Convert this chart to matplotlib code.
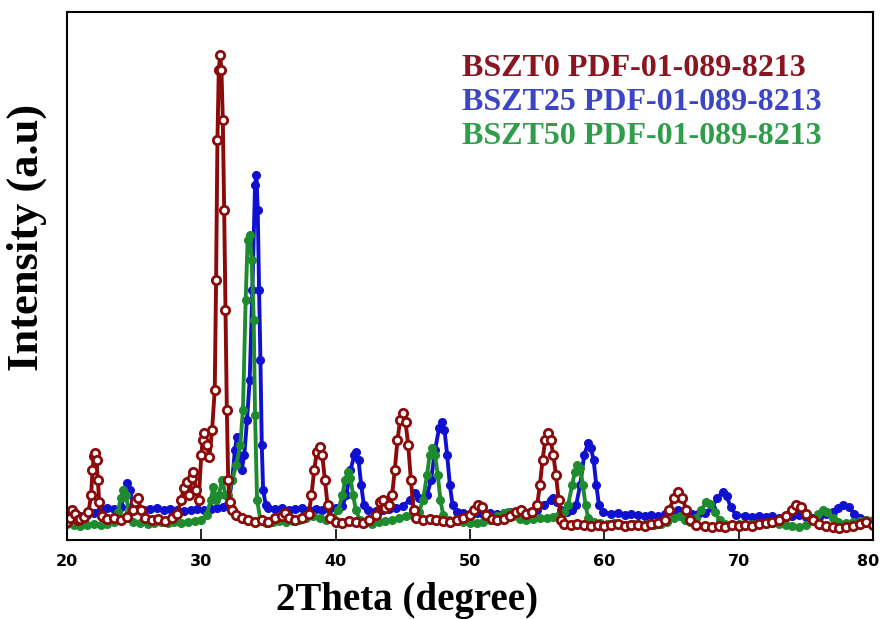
import matplotlib.pyplot as plt
from matplotlib.transforms import ScaledTranslation

# BSZT0 (arbitrary intensity units)
x_bszt0 = [20.0, 20.2, 20.4, 20.6, 20.8, 21.0, 21.3, 21.6, 21.8, 21.9, 22.0, 22.1, 22.2, 22.3, 22.4, 22.6,
           23.0, 23.5, 24.0, 24.5, 24.9, 25.1, 25.3, 25.5, 25.8, 26.3, 26.8, 27.3, 27.8, 28.2, 28.5, 28.7,
           28.9, 29.1, 29.3, 29.4, 29.6, 29.8, 30.0, 30.1, 30.2, 30.4, 30.6, 30.8, 31.0, 31.1, 31.2, 31.3,
           31.4, 31.5, 31.6, 31.7, 31.8, 31.9, 32.0, 32.1, 32.3, 32.6, 33.0, 33.5, 34.0, 34.5, 35.0, 35.5,
           36.0, 36.2, 36.5, 37.0, 37.5, 38.0, 38.2, 38.4, 38.6, 38.8, 39.0, 39.2, 39.4, 39.6, 40.0, 40.5,
           41.0, 41.5, 42.0, 42.5, 43.0, 43.3, 43.5, 43.7, 44.0, 44.2, 44.4, 44.6, 44.8, 45.0, 45.2, 45.4,
           45.6, 45.8, 46.0, 46.5, 47.0, 47.5, 48.0, 48.5, 49.0, 49.5, 50.0, 50.3, 50.6, 50.9, 51.2, 51.6,
           52.0, 52.5, 53.0, 53.4, 53.8, 54.2, 54.6, 55.0, 55.2, 55.4, 55.6, 55.8, 56.0, 56.2, 56.4, 56.6,
           56.8, 57.0, 57.5, 58.0, 58.5, 59.0, 59.5, 60.0, 60.5, 61.0, 61.5, 62.0, 62.5, 63.0, 63.5, 64.0,
           64.5, 64.8, 65.2, 65.5, 65.8, 66.1, 66.4, 66.8, 67.5, 68.0, 68.5, 69.0, 69.5, 70.0, 70.5, 71.0,
           71.5, 72.0, 72.5, 73.0, 73.5, 74.0, 74.3, 74.6, 75.0, 75.5, 76.0, 76.5, 77.0, 77.5, 78.0, 78.5,
           79.0, 79.5, 80.0]
y_bszt0 = [18, 22, 30, 26, 20, 21, 23, 28, 45, 70, 84, 87, 80, 60, 38, 24,
           21, 22, 20, 23, 30, 38, 42, 30, 22, 20, 21, 19, 22, 26, 40, 52,
           58, 45, 62, 68, 50, 40, 85, 100, 107, 95, 83, 110, 150, 260, 400, 470,
           485, 470, 420, 330, 230, 130, 60, 38, 30, 25, 22, 20, 18, 20, 18, 22,
           24, 27, 22, 20, 22, 26, 45, 70, 88, 93, 85, 60, 35, 22, 18, 17,
           19, 18, 17, 20, 25, 38, 40, 32, 35, 45, 70, 100, 120, 127, 118, 95,
           60, 30, 22, 20, 21, 20, 19, 18, 20, 22, 25, 30, 35, 33, 25, 21,
           20, 21, 24, 28, 30, 26, 28, 35, 55, 80, 100, 107, 100, 85, 65, 40,
           20, 16, 15, 16, 15, 14, 15, 14, 15, 16, 14, 15, 15, 14, 16, 17,
           20, 30, 42, 48, 42, 30, 20, 15, 14, 13, 14, 13, 15, 14, 15, 14,
           16, 17, 18, 20, 24, 30, 35, 33, 26, 20, 16, 14, 13, 12, 13, 14,
           16, 18, 15]

# BSZT25
x_bszt25 = [20.0, 20.5, 21.0, 21.5, 22.0, 22.5, 23.0, 23.5, 24.0, 24.3, 24.5, 24.7, 24.9, 25.2, 25.7, 26.2,
            26.7, 27.2, 27.7, 28.2, 28.7, 29.2, 29.7, 30.2, 30.7, 31.2, 31.6, 32.0, 32.3, 32.5, 32.65, 32.8,
            33.0, 33.2, 33.4, 33.6, 33.8, 34.0, 34.1, 34.2, 34.3, 34.4, 34.5, 34.6, 34.8, 35.0, 35.5, 36.0,
            36.5, 37.0, 37.5, 38.0, 38.5, 39.0, 39.5, 40.0, 40.5, 40.8, 41.1, 41.4, 41.5, 41.7, 41.9, 42.1,
            42.4, 43.0, 43.5, 44.0, 44.5, 45.0, 45.5, 45.9, 46.2, 46.5, 46.8, 47.1, 47.4, 47.7, 47.9, 48.1,
            48.3, 48.5, 48.7, 49.0, 49.5, 50.0, 50.5, 51.0, 51.5, 52.0, 52.5, 53.0, 53.5, 54.0, 54.5, 55.0,
            55.5, 56.0, 56.2, 56.5, 56.8, 57.2, 57.6, 57.9, 58.2, 58.5, 58.8, 59.0, 59.2, 59.4, 59.6, 59.9,
            60.5, 61.0, 61.5, 62.0, 62.5, 63.0, 63.5, 64.0, 64.5, 65.0, 65.5, 66.0, 66.5, 67.0, 67.5, 68.0,
            68.4, 68.8, 69.1, 69.4, 69.8, 70.5, 71.0, 71.5, 72.0, 72.5, 73.0, 73.5, 74.0, 74.5, 75.0, 75.5,
            76.0, 76.5, 77.0, 77.4, 77.8, 78.2, 78.6, 79.0, 79.5, 80.0]
y_bszt25 = [22, 24, 24, 25, 27, 31, 32, 31, 33, 45, 57, 50, 35, 31, 30, 31,
            32, 30, 31, 30, 29, 30, 31, 30, 31, 32, 33, 36, 60, 90, 103, 85,
            70, 85, 120, 160, 250, 355, 365, 330, 250, 180, 95, 50, 35, 32, 31, 32,
            30, 31, 32, 30, 31, 30, 31, 32, 34, 45, 70, 85, 88, 80, 55, 35,
            30, 29, 30, 31, 32, 34, 40, 47, 42, 40, 45, 60, 90, 112, 118, 110,
            85, 55, 35, 28, 27, 26, 27, 26, 27, 26, 27, 28, 27, 28, 28, 30,
            35, 40, 42, 38, 30, 28, 30, 35, 55, 85, 97, 92, 80, 55, 35, 28,
            26, 27, 25, 26, 25, 24, 25, 24, 26, 28, 30, 27, 26, 26, 27, 32,
            42, 48, 44, 33, 25, 24, 23, 24, 23, 24, 22, 23, 24, 25, 23, 22,
            23, 26, 28, 32, 35, 33, 26, 22, 20, 18]

# BSZT50
x_bszt50 = [20.0, 20.5, 21.0, 21.5, 22.0, 22.5, 23.0, 23.5, 23.8, 24.0, 24.2, 24.4, 24.6, 24.9, 25.4, 26.0,
            26.5, 27.0, 27.5, 28.0, 28.5, 29.0, 29.5, 30.0, 30.4, 30.7, 30.9, 31.1, 31.3, 31.55, 31.8, 32.0,
            32.3, 32.6, 32.9, 33.1, 33.3, 33.45, 33.6, 33.75, 33.9, 34.0, 34.15, 34.4, 34.8, 35.3, 35.8, 36.3,
            36.8, 37.3, 37.8, 38.3, 38.8, 39.3, 39.8, 40.2, 40.5, 40.7, 40.9, 41.1, 41.3, 41.5, 41.8, 42.2,
            42.7, 43.2, 43.7, 44.2, 44.7, 45.2, 45.7, 46.2, 46.5, 46.8, 47.0, 47.2, 47.4, 47.6, 47.8, 48.0,
            48.4, 49.0, 49.5, 50.0, 50.5, 51.0, 51.5, 52.0, 52.5, 52.8, 53.2, 53.7, 54.2, 54.7, 55.2, 55.7,
            56.2, 56.6, 57.0, 57.3, 57.6, 57.8, 58.0, 58.2, 58.4, 58.6, 58.8, 59.2, 59.7, 60.2, 60.7, 61.2,
            61.7, 62.2, 62.7, 63.2, 63.7, 64.2, 64.7, 65.2, 65.6, 66.0, 66.4, 66.8, 67.2, 67.6, 67.9, 68.2,
            68.6, 69.0, 69.5, 70.0, 70.5, 71.0, 71.5, 72.0, 72.5, 73.0, 73.5, 74.0, 74.5, 75.0, 75.5, 75.9,
            76.3, 76.6, 77.0, 77.4, 78.0, 78.5, 79.0, 79.5, 80.0]
y_bszt50 = [16, 15, 14, 15, 16, 15, 16, 18, 28, 42, 50, 45, 28, 18, 17, 16,
            17, 18, 17, 18, 17, 18, 19, 20, 25, 40, 53, 40, 45, 60, 45, 45,
            60, 75, 95, 130, 240, 300, 305, 280, 220, 125, 40, 20, 17, 18, 19, 18,
            19, 20, 22, 24, 22, 20, 22, 30, 45, 60, 68, 62, 45, 30, 20, 17,
            16, 18, 19, 20, 22, 24, 25, 28, 40, 65, 85, 92, 85, 65, 40, 25,
            20, 19, 18, 17, 17, 18, 20, 24, 27, 28, 24, 21, 20, 21, 22, 22,
            23, 25, 28, 35, 55, 68, 75, 72, 55, 35, 22, 18, 17, 16, 17, 16,
            15, 16, 15, 16, 15, 16, 18, 22, 24, 20, 18, 22, 30, 38, 36, 28,
            20, 16, 15, 16, 15, 16, 17, 16, 17, 16, 15, 14, 13, 15, 20, 26,
            30, 28, 22, 18, 17, 18, 19, 20, 20]

x_ticks = [20, 30, 40, 50, 60, 70, 80]
labels = ['BSZT0 PDF-01-089-8213', 'BSZT25 PDF-01-089-8213', 'BSZT50 PDF-01-089-8213']
text_colors = ['#8a1520', '#3c46c4', '#2e9e4a']

fig = plt.figure(figsize=(8.8, 6.19), dpi=100)
ax = fig.add_axes([0.0761, 0.1276, 0.916, 0.853])

# blue and green first, red open circles on top
ax.plot(x_bszt25, y_bszt25, color='#1010d0', lw=2.8, marker='o', ms=5.5, mec='#1010d0', mfc='#1010d0')
ax.plot(x_bszt50, y_bszt50, color='#1e8c2e', lw=2.8, marker='o', ms=5.5, mec='#1e8c2e', mfc='#1e8c2e')
ax.plot(x_bszt0, y_bszt0, color='#8b0a0a', lw=2.8, marker='o', ms=6, mec='#8b0a0a', mfc='white', mew=2)

ax.set_xlim(20, 80)
ax.set_ylim(0, 528)
ax.set_xticks(x_ticks)
ax.set_yticks([])
ax.tick_params(axis='x', direction='in', length=8, width=1.2, pad=10, labelsize=11.5)
for lab in ax.get_xticklabels():
    lab.set_fontweight('bold')
# last label sits a little inside the figure edge
last = ax.get_xticklabels()[-1]
last.set_transform(last.get_transform() + ScaledTranslation(-5 / 100, 0, fig.dpi_scale_trans))
for sp in ax.spines.values():
    sp.set_linewidth(1.5)

ax.set_xlabel('2Theta (degree)', family='Liberation Serif', fontweight='bold', fontsize=28)
ax.set_ylabel('Intensity (a.u)', family='Liberation Serif', fontweight='bold', fontsize=32)
ax.xaxis.set_label_coords(0.422, -0.114)
ax.yaxis.set_label_coords(-0.0496, 0.574)
ax.xaxis.label.set_va('center')
ax.yaxis.label.set_va('center')

# coloured sample labels in the upper right
for i, (txt, col) in enumerate(zip(labels, text_colors)):
    fig.text(0.525, 0.890 - i * 0.055, txt, color=col, family='Liberation Serif',
             fontweight='bold', fontsize=23, va='center', ha='left')

fig.savefig('out.png', dpi=100)
